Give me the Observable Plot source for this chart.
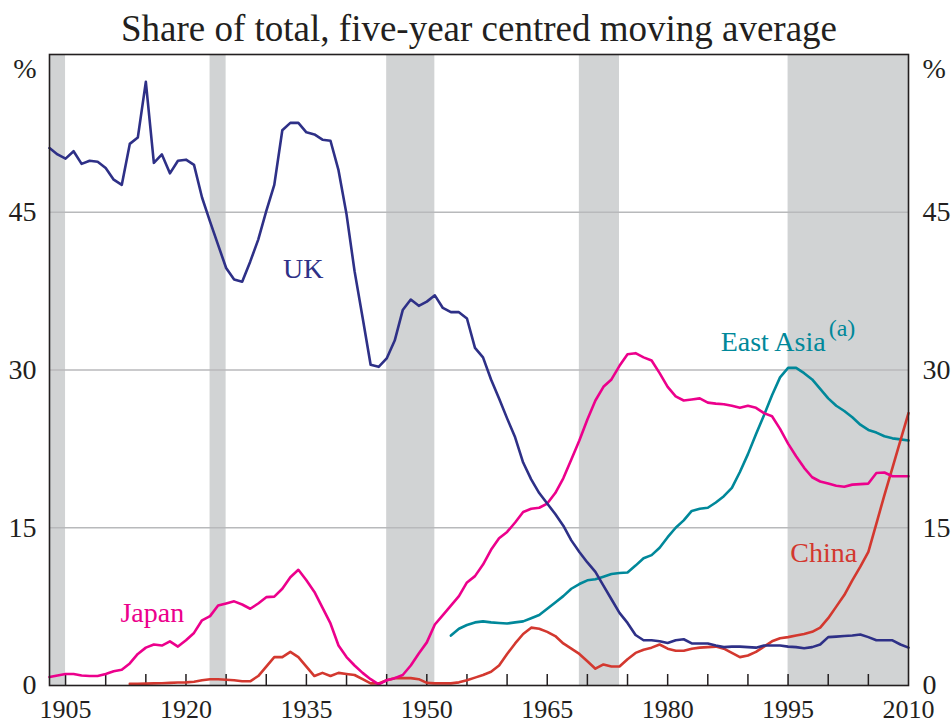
<!DOCTYPE html>
<html>
<head>
<meta charset="utf-8">
<script src="https://cdn.jsdelivr.net/npm/d3@7"></script>
<script src="https://cdn.jsdelivr.net/npm/@observablehq/plot@0.6"></script>
<style>
  html, body { margin: 0; padding: 0; background: #fff; }
  #chart svg { display: block; }
</style>
</head>
<body>
<div id="chart"></div>
<script>
const titleText = "Share of total, five-year centred moving average";

const seriesNames = ["UK", "Japan", "East Asia", "China"];
const seriesColors = ["#2e3087", "#ec008c", "#00889a", "#d3382f"];

const ukStart = 1903;
const ukValues = [
  51.1, 50.5, 50.1, 50.8, 49.6, 49.9, 49.8, 49.2, 48.1, 47.6,
  51.5, 52.1, 57.4, 49.7, 50.5, 48.7, 49.9, 50.0, 49.5, 46.4,
  44.1, 41.9, 39.7, 38.6, 38.4, 40.3, 42.4, 45.1, 47.6, 52.8,
  53.5, 53.5, 52.6, 52.4, 51.9, 51.8, 49.0, 44.8, 39.4, 35.0,
  30.5, 30.3, 31.1, 32.8, 35.7, 36.7, 36.1, 36.5, 37.1, 35.9,
  35.5, 35.5, 34.9, 32.1, 31.2, 29.1, 27.3, 25.4, 23.6, 21.2,
  19.6, 18.3, 17.3, 16.3, 15.2, 13.8, 12.7, 11.7, 10.8, 9.5,
  8.2, 6.9, 5.95, 4.8, 4.3, 4.3, 4.2, 4.05, 4.3, 4.4,
  4.0, 4.0, 4.0, 3.8, 3.65, 3.7, 3.7, 3.65, 3.6, 3.8,
  3.8, 3.8, 3.7, 3.65, 3.55, 3.65, 3.9, 4.6, 4.65, 4.7,
  4.75, 4.85, 4.6, 4.3, 4.3, 4.3, 3.9, 3.6
];

const japanStart = 1903;
const japanValues = [
  0.8, 0.95, 1.1, 1.1, 0.95, 0.9, 0.9, 1.1, 1.35, 1.5,
  2.1, 3.0, 3.6, 3.9, 3.8, 4.2, 3.7, 4.3, 5.0, 6.2,
  6.6, 7.6, 7.8, 8.0, 7.7, 7.3, 7.8, 8.4, 8.45, 9.2,
  10.3, 11.0, 10.0, 8.9, 7.4, 5.9, 3.8, 2.7, 1.9, 1.2,
  0.6, 0.1, 0.5, 0.7, 1.0, 1.9, 3.05, 4.1, 5.8, 6.7,
  7.6, 8.5, 9.8, 10.4, 11.5, 12.9, 14.0, 14.6, 15.5, 16.5,
  16.8, 16.9, 17.3, 18.3, 19.7, 21.5, 23.3, 25.3, 27.1, 28.4,
  29.1, 30.4, 31.5, 31.6, 31.2, 30.9, 29.7, 28.4, 27.5, 27.1,
  27.2, 27.3, 26.9, 26.8, 26.75, 26.6, 26.4, 26.6, 26.4, 25.9,
  25.6, 24.4, 23.0, 21.8, 20.7, 19.8, 19.4, 19.2, 19.0, 18.9,
  19.1, 19.15, 19.2, 20.2, 20.25, 19.9, 19.9, 19.9
];

const eastAsiaStart = 1953;
const eastAsiaValues = [
  4.75, 5.4, 5.75, 6.0, 6.1, 6.0, 5.95, 5.9, 6.0, 6.1,
  6.4, 6.7, 7.3, 7.9, 8.5, 9.2, 9.65, 10.0, 10.1, 10.35,
  10.6, 10.7, 10.75, 11.4, 12.1, 12.4, 13.1, 14.1, 15.0, 15.7,
  16.6, 16.8, 16.9, 17.4, 18.0, 18.8, 20.3, 22.0, 23.9, 25.7,
  27.6, 29.3, 30.2, 30.2, 29.7, 29.1, 28.2, 27.3, 26.6, 26.1,
  25.5, 24.8, 24.3, 24.05, 23.7, 23.5, 23.4, 23.3
];

const chinaStart = 1913;
const chinaValues = [
  0.15, 0.15, 0.18, 0.2, 0.22, 0.25, 0.28, 0.3, 0.35, 0.5,
  0.6, 0.6, 0.55, 0.5, 0.4, 0.4, 0.9, 1.8, 2.7, 2.7,
  3.2, 2.7, 1.8, 0.9, 1.2, 0.9, 1.2, 1.1, 1.0, 0.6,
  0.2, 0.2, 0.5, 0.7, 0.72, 0.7, 0.6, 0.25, 0.2, 0.2,
  0.2, 0.3, 0.5, 0.75, 1.0, 1.3, 1.9, 3.0, 4.0, 4.9,
  5.5, 5.4, 5.1, 4.7, 4.0, 3.5, 3.0, 2.3, 1.6, 2.0,
  1.8, 1.8, 2.5, 3.1, 3.4, 3.6, 3.9, 3.5, 3.3, 3.3,
  3.5, 3.6, 3.65, 3.7, 3.5, 3.1, 2.7, 2.85, 3.2, 3.7,
  4.2, 4.5, 4.6, 4.75, 4.9, 5.1, 5.5, 6.4, 7.5, 8.6,
  10.0, 11.3, 12.7, 15.4, 18.1, 20.7, 23.3, 25.9
];

const bandStarts = [1903, 1923, 1945, 1969, 1995];
const bandEnds = [1905, 1925, 1951, 1974, 2010];

const xTickYears = [1905, 1910, 1915, 1920, 1925, 1930, 1935, 1940, 1945, 1950,
  1955, 1960, 1965, 1970, 1975, 1980, 1985, 1990, 1995, 2000, 2005];
const xLabelYears = [1905, 1920, 1935, 1950, 1965, 1980, 1995, 2010];
const yTicks = [0, 15, 30, 45];
const yGrid = [15, 30, 45];

const labelNames = ["UK", "Japan", "East Asia", "China"];
const labelYears = [1934.6, 1915.8, 1986.6, 1999.45];
const labelValues = [39.6, 6.9, 32.7, 12.6];

// Build tables
function series(name, start, values) {
  return values.map((v, i) => ({series: name, year: start + i, value: v}));
}
const data = [
  ...series("East Asia", eastAsiaStart, eastAsiaValues),
  ...series("China", chinaStart, chinaValues),
  ...series("Japan", japanStart, japanValues),
  ...series("UK", ukStart, ukValues)
];
const bands = bandStarts.map((s, i) => ({start: s, end: bandEnds[i]}));
const labels = labelNames.map((n, i) => ({name: n, year: labelYears[i], value: labelValues[i]}));
const centredLabels = labels.filter(d => d.name !== "East Asia");
const startLabels = labels.filter(d => d.name === "East Asia");

const ink = "#231f20";
const W = 952, H = 724;
const mTop = 54, mBottom = 39, mLeft = 49, mRight = 44;
const frameH = H - mTop - mBottom;

const chart = Plot.plot({
  width: W,
  height: H,
  marginTop: mTop,
  marginBottom: mBottom,
  marginLeft: mLeft,
  marginRight: mRight,
  style: {fontFamily: "'Liberation Serif', 'Times New Roman', serif", color: ink, background: "#fff"},
  x: {domain: [1903, 2010]},
  y: {domain: [0, 60]},
  color: {domain: seriesNames, range: seriesColors},
  marks: [
    Plot.rect(bands, {x1: "start", x2: "end", fill: "#d1d3d4"}),
    Plot.ruleY(yGrid, {stroke: "#b8b9bb", strokeWidth: 1.3}),
    Plot.ruleX(xTickYears, {stroke: ink, strokeWidth: 1.5, insetTop: frameH - 11}),
    Plot.line(data, {x: "year", y: "value", z: "series", stroke: "series", strokeWidth: 2.6, strokeLinejoin: "round"}),
    Plot.axisX(xLabelYears, {anchor: "bottom", tickSize: 0, tickPadding: 14, fontSize: 26, tickFormat: d => String(d), label: null}),
    Plot.axisY(yTicks, {anchor: "left", tickSize: 0, tickPadding: 13, fontSize: 28, label: null}),
    Plot.axisY(yTicks, {anchor: "right", tickSize: 0, tickPadding: 14, fontSize: 28, label: null}),
    Plot.text(["%"], {frameAnchor: "top-left", lineAnchor: "middle", dx: -13, dy: 15, textAnchor: "end", fontSize: 28, fill: ink}),
    Plot.text(["%"], {frameAnchor: "top-right", lineAnchor: "middle", dx: 14, dy: 15, textAnchor: "start", fontSize: 28, fill: ink}),
    Plot.text([titleText], {frameAnchor: "top", lineAnchor: "middle", dy: -25, fontSize: 37, fill: ink}),
    Plot.text(centredLabels, {x: "year", y: "value", text: "name", textAnchor: "middle", fontSize: 28, fill: d => d.name}),
    Plot.text(startLabels, {x: "year", y: "value", text: "name", textAnchor: "start", fontSize: 28, fill: d => d.name}),
    Plot.text(startLabels, {x: "year", y: "value", text: () => "(a)", textAnchor: "start", dx: 108, dy: -13, fontSize: 24, fill: d => d.name}),
    Plot.frame({stroke: ink, strokeWidth: 1.6})
  ]
});

document.getElementById("chart").appendChild(chart);
</script>
</body>
</html>
